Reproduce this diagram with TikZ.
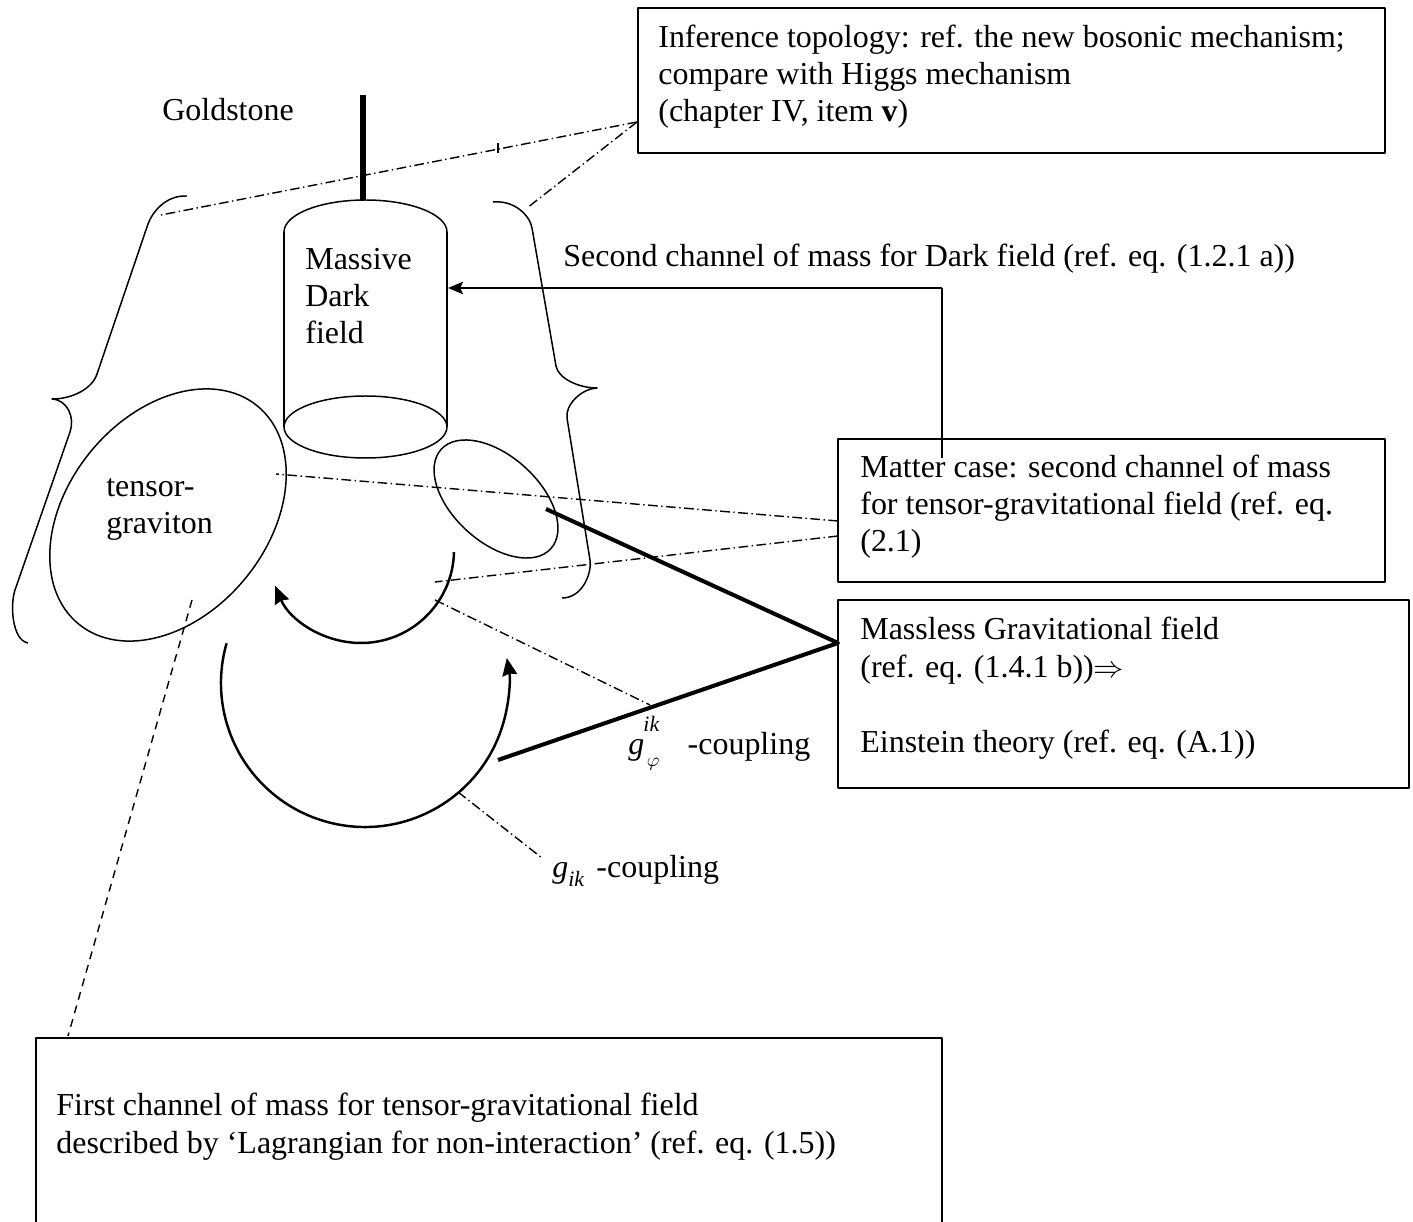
\documentclass[tikz,border=0pt]{standalone}
\usepackage{fontspec}
\setmainfont{Liberation Serif}
\usetikzlibrary{arrows.meta,fit}

\tikzset{
  lbl/.style={inner sep=0pt,anchor=base west,align=left,
    font=\fontsize{18.2}{21.3}\selectfont},
  boxline/.style={draw,line width=0.8pt,inner sep=0pt},
  curveline/.style={line width=0.85pt},
  linkline/.style={line width=0.8pt,dash pattern=on 5.5pt off 2pt on 0.8pt off 2pt},
  swirl/.style={line width=1.4pt,-{Stealth[length=10pt,width=8.5pt,inset=1pt]}},
  heavy/.style={line width=2.3pt},
}

\begin{document}
\begin{tikzpicture}[x=0.02cm,y=0.02cm,line join=round]
  \useasboundingbox (0,0) rectangle (1413,-1222);

  % anchor points
  \coordinate (hub) at (637,-122);
  \coordinate (lbtop) at (161,-215);
  \coordinate (rbtop) at (527,-208);
  \coordinate (gravR) at (276,-474);
  \coordinate (gravB) at (192,-600);
  \coordinate (mattA) at (838,-521);
  \coordinate (mattB) at (838,-536);
  \coordinate (arcUr) at (435,-582);
  \coordinate (arcUs) at (435,-600);
  \coordinate (phiend) at (650,-705);
  \coordinate (arcLs) at (458,-792);
  \coordinate (gikend) at (542,-858);
  \coordinate (lowtop) at (68,-1036);
  \coordinate (hubM) at (838,-643);
  \coordinate (satc) at (546,-509);
  \coordinate (arcLe) at (498,-760);
  \coordinate (feed) at (942,-458);
  \coordinate (bend) at (942,-288);
  \coordinate (cylR) at (448,-288);
  \coordinate (upc) at (361,-550);
  \coordinate (lowc) at (365,-683);

  % braces
  \draw[curveline] (187,-196) .. controls (165,-195) and (152,-213) .. (148,-224)
    -- (97,-374) .. controls (92,-389) and (72,-399) .. (52,-399)
    .. controls (68,-400) and (75,-418) .. (70,-432)
    -- (15,-590) .. controls (10,-605) and (12,-640) .. (28,-643);
  \draw[curveline] (493,-202) .. controls (515,-200) and (530,-216) .. (532,-228)
    -- (556,-366) .. controls (558,-378) and (578,-388) .. (597,-388)
    .. controls (580,-389) and (565,-406) .. (567,-418)
    -- (590,-560) .. controls (592,-574) and (582,-598) .. (562,-598);

  % cylinder
  \draw[curveline] (284,-232) -- (284,-427) (447,-232) -- (447,-427);
  \draw[curveline] (284,-232) arc[start angle=180,end angle=0,x radius=81.5,y radius=32];
  \draw[curveline] (365.5,-427) ellipse[x radius=81.5,y radius=31];
  \draw[line width=3pt] (363,-95) -- (363,-200);

  % ellipses
  \draw[curveline,rotate around={50.6:(168,-515)}] (168,-515) ellipse[x radius=141,y radius=100];
  \draw[curveline,rotate around={-42.2:(496,-499)}] (496,-499) ellipse[x radius=74,y radius=43];

  % couplings
  \draw[swirl] ([shift={(-1.3:93)}]upc) arc[start angle=-1.3,end angle=-157.3,radius=93];
  \draw[swirl] ([shift={(164:144)}]lowc) arc[start angle=164,end angle=370,radius=144];

  % boxes (base anchor = last line)
  \node (infotext) [lbl] at (658,-122) {Inference topology: ref. the new bosonic mechanism;\\
    compare with Higgs mechanism\\(chapter IV, item \textbf{v})};
  \node (infobox) [boxline,fit={(638,-8) (1385,-153)}] {};
  \node (mattext) [lbl] at (860,-552) {Matter case: second channel of mass\\
    for tensor-gravitational field (ref. eq.\\(2.1)};
  \node (matbox) [boxline,fit={(838,-439) (1385,-582)}] {};
  \node (masstext) [lbl] at (860,-752) {Massless Gravitational field\\
    (ref. eq. (1.4.1 b))$\Rightarrow$\\[21.3pt]Einstein theory (ref. eq. (A.1))};
  \node (massbox) [boxline,fit={(838,-600) (1409,-788)}] {};
  \node (firsttext) [lbl] at (56,-1153) {First channel of mass for tensor-gravitational field\\
    described by ‘Lagrangian for non-interaction’ (ref. eq. (1.5))};
  \draw[line width=0.8pt] (36,-1222) |- (942,-1038) -- (942,-1222);

  % labels
  \node (gold) [lbl] at (162,-121) {Goldstone};
  \node (dark) [lbl] at (305,-344) {Massive\\Dark\\field};
  \node (tens) [lbl] at (106,-534) {tensor-\\graviton};
  \node (second) [lbl] at (563,-267) {Second channel of mass for Dark field (ref. eq. (1.2.1 a))};
  \node (gphi) [lbl] at (628,-754) {\textit{g}\kern-0.5pt\rlap{\raisebox{0.7em}{\fontsize{12.5}{12.5}\selectfont\itshape ik}}\kern2pt\raisebox{-0.4em}{\fontsize{11}{11}\selectfont$\varphi$}\kern16pt-coupling};
  \node (gik) [lbl] at (552,-877) {\textit{g}\raisebox{-0.3em}{\fontsize{12.5}{12.5}\selectfont\itshape ik}\kern7pt-coupling};

  % connectors
  \draw[linkline] (hub) -- (lbtop);
  \draw[line width=0.6pt] (498,-143) -- (498,-153);
  \draw[linkline] (hub) -- (rbtop);
  \draw[linkline] (mattA) -- (gravR);
  \draw[linkline] (mattB) -- (arcUr);
  \draw[linkline] (arcUs) -- (phiend);
  \draw[linkline] (arcLs) -- (gikend);
  \draw[line width=0.8pt,dash pattern=on 4.5pt off 3.5pt] (gravB) -- (lowtop);
  \draw[heavy] (satc) -- (hubM) -- (arcLe);
  \draw[line width=0.8pt] (feed) -- (bend);
  \draw[line width=1.3pt,-{Stealth[length=8.5pt,width=7pt,inset=1.5pt]}] (bend) -- (cylR);
\end{tikzpicture}
\end{document}
